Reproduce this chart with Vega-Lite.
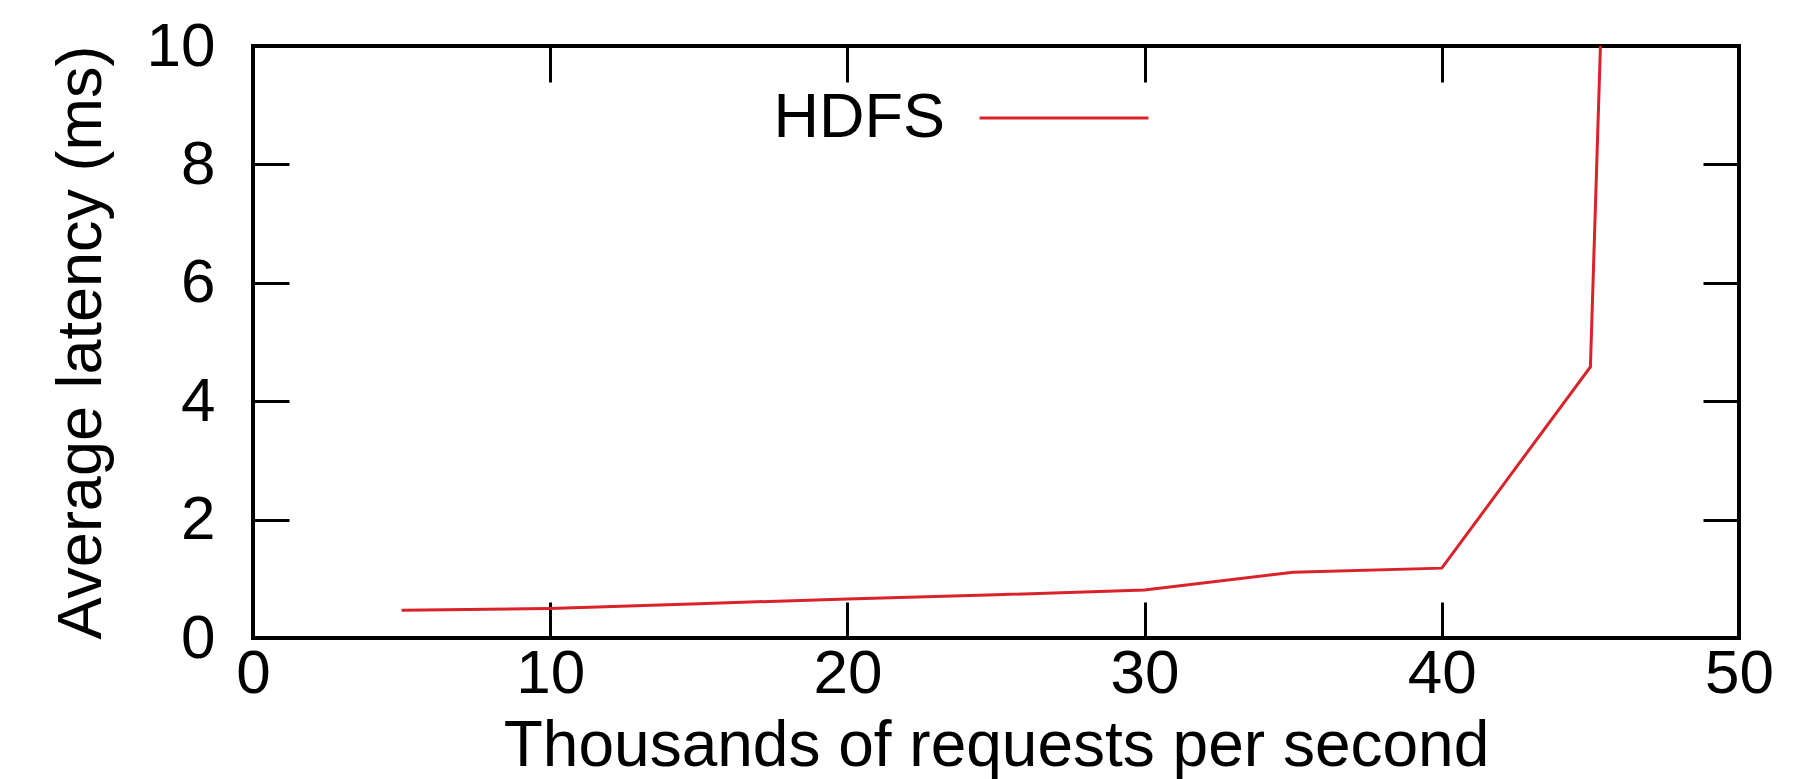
{
  "$schema": "https://vega.github.io/schema/vega-lite/v6.json",
  "width": 1486,
  "height": 592,
  "autosize": "none",
  "padding": {"left": 253, "top": 46, "right": 75, "bottom": 141},
  "background": "white",
  "config": {
    "view": {"stroke": "black", "strokeWidth": 4},
    "font": "Liberation Sans",
    "axis": {
      "grid": false,
      "domain": false,
      "labelFlush": false,
      "tickColor": "black",
      "tickWidth": 3,
      "tickSize": -36,
      "labelColor": "black",
      "labelFont": "Liberation Sans",
      "labelFontSize": 62,
      "titleColor": "black",
      "titleFont": "Liberation Sans",
      "titleFontSize": 63,
      "titleFontWeight": "normal"
    },
    "legend": {
      "orient": "none",
      "legendX": 725,
      "legendY": -14,
      "padding": 0,
      "symbolType": "stroke",
      "symbolSize": 28561,
      "symbolStrokeWidth": 3,
      "labelFont": "Liberation Sans",
      "labelFontSize": 63,
      "labelColor": "black",
      "labelAlign": "right",
      "labelOffset": -205,
      "labelLimit": 0
    }
  },
  "data": {
    "values": [
      {"krps": 5, "latency": 0.47, "series": "HDFS"},
      {"krps": 10, "latency": 0.50, "series": "HDFS"},
      {"krps": 15, "latency": 0.58, "series": "HDFS"},
      {"krps": 20, "latency": 0.66, "series": "HDFS"},
      {"krps": 25, "latency": 0.73, "series": "HDFS"},
      {"krps": 30, "latency": 0.81, "series": "HDFS"},
      {"krps": 35, "latency": 1.11, "series": "HDFS"},
      {"krps": 40, "latency": 1.18, "series": "HDFS"},
      {"krps": 45, "latency": 4.58, "series": "HDFS"},
      {"krps": 45.5, "latency": 12.6, "series": "HDFS"}
    ]
  },
  "layer": [
    {
      "mark": {"type": "line", "clip": true, "strokeWidth": 3},
      "encoding": {
        "x": {
          "field": "krps", "type": "quantitative",
          "scale": {"domain": [0, 50], "nice": false},
          "axis": {"orient": "bottom", "values": [0, 10, 20, 30, 40, 50], "labelPadding": 41, "title": "Thousands of requests per second", "titleFontSize": 64, "titleBaseline": "alphabetic", "titleY": 127}
        },
        "y": {
          "field": "latency", "type": "quantitative",
          "scale": {"domain": [0, 10], "nice": false},
          "axis": {"orient": "left", "values": [0, 2, 4, 6, 8, 10], "labelPadding": 74, "title": "Average latency (ms)", "titleBaseline": "alphabetic", "titleX": -153}
        },
        "color": {
          "field": "series", "type": "nominal",
          "scale": {"domain": ["HDFS"], "range": ["#d9222a"]},
          "legend": {"title": null}
        }
      }
    },
    {
      "mark": {"type": "line", "opacity": 0, "clip": true},
      "encoding": {
        "x": {
          "field": "krps", "type": "quantitative",
          "axis": {"orient": "top", "values": [10, 20, 30, 40], "labels": false, "title": null}
        },
        "y": {
          "field": "latency", "type": "quantitative",
          "axis": {"orient": "right", "values": [2, 4, 6, 8], "labels": false, "title": null}
        }
      }
    }
  ]
}
